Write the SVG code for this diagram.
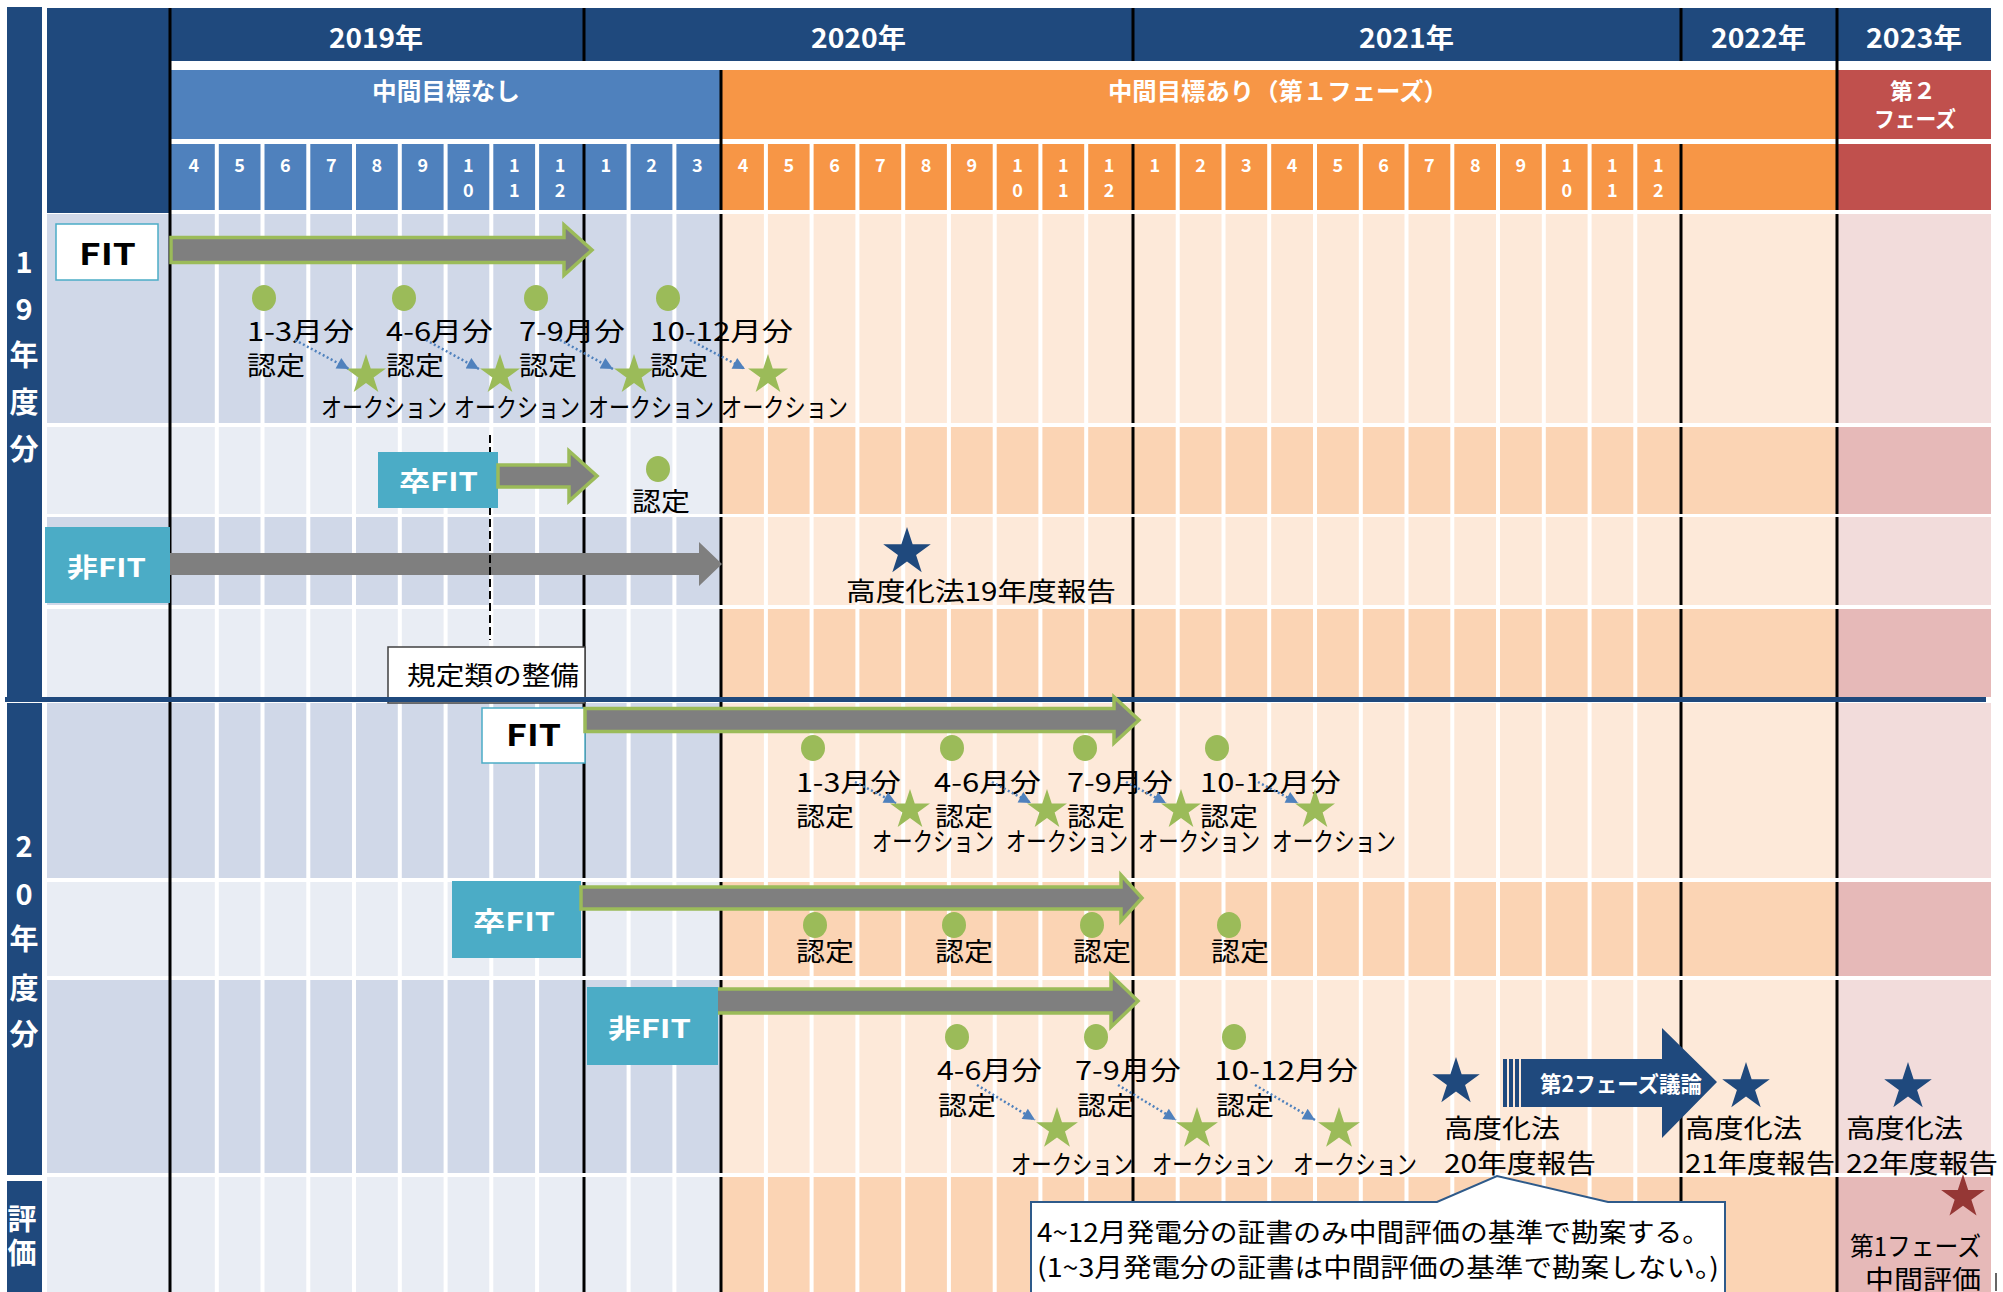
<svg xmlns="http://www.w3.org/2000/svg" xmlns:xlink="http://www.w3.org/1999/xlink" width="2003" height="1292" viewBox="0 0 2003 1292">
<style>
text{font-family:'Noto Sans CJK JP','Noto Sans',sans-serif}
.l{font-size:26px;fill:#000}
.w{fill:#fff;font-weight:bold}
.yr{font-size:27px}
.mo{font-family:'Noto Sans','DejaVu Sans',sans-serif;font-size:18px;fill:#fff;font-weight:bold;text-anchor:middle}
.sd{font-size:29px;fill:#fff;font-weight:bold;text-anchor:middle}
.navy{fill:#1F497D}
.bd{fill:#D0D8E8}.bl{fill:#E9EDF4}.ol{fill:#FDE9D9}.od{fill:#FBD4B4}.pl{fill:#F2DCDB}.pd{fill:#E6B9B8}
.garr{fill:#7F7F7F;stroke:#9BBB59;stroke-width:3.5;stroke-linejoin:miter}
.teal{fill:#4BACC6}
.dot{fill:#9BBB59}
.gs{fill:#9BBB59}
.ns{fill:#1F497D}
.da{fill:none;stroke:#4F81BD;stroke-width:2.5;stroke-dasharray:2 2.5;marker-end:url(#ah)}
</style>
<defs>
<path id="star" d="M0,-1 L0.225,-0.309 L0.951,-0.309 L0.363,0.118 L0.588,0.809 L0,0.382 L-0.588,0.809 L-0.363,0.118 L-0.951,-0.309 L-0.225,-0.309 Z"/>
<marker id="ah" viewBox="0 0 10 10" refX="10" refY="5" markerWidth="14" markerHeight="12" markerUnits="userSpaceOnUse" orient="auto"><path d="M0,0 L10,5 L0,10 Z" fill="#4F81BD"/></marker>
</defs>
<rect width="2003" height="1292" fill="#fff"/>

<g id="grid">
<rect class="navy" x="7" y="7" width="35" height="690"/>
<rect class="navy" x="7" y="703" width="35" height="472"/>
<rect class="navy" x="7" y="1181" width="35" height="111"/>
<rect class="navy" x="47" y="8" width="124" height="205"/>
<rect class="navy" x="171" y="8" width="1820" height="53"/>
<rect x="171" y="70" width="550" height="69" fill="#4F81BD"/>
<rect x="721" y="70" width="1116" height="69" fill="#F79646"/>
<rect x="1837" y="70" width="154" height="69" fill="#C0504D"/>
<rect x="171" y="144" width="550" height="66" fill="#4F81BD"/>
<rect x="721" y="144" width="1116" height="66" fill="#F79646"/>
<rect x="1837" y="144" width="154" height="66" fill="#C0504D"/>
<rect class="bd" x="47" y="214" width="674" height="209"/><rect class="ol" x="721" y="214" width="1116" height="209"/><rect class="pl" x="1837" y="214" width="154" height="209"/>
<rect class="bl" x="47" y="427" width="674" height="87"/><rect class="od" x="721" y="427" width="1116" height="87"/><rect class="pd" x="1837" y="427" width="154" height="87"/>
<rect class="bd" x="47" y="517" width="674" height="88"/><rect class="ol" x="721" y="517" width="1116" height="88"/><rect class="pl" x="1837" y="517" width="154" height="88"/>
<rect class="bl" x="47" y="609" width="674" height="88"/><rect class="od" x="721" y="609" width="1116" height="88"/><rect class="pd" x="1837" y="609" width="154" height="88"/>
<rect class="bd" x="47" y="703" width="674" height="175"/><rect class="ol" x="721" y="703" width="1116" height="175"/><rect class="pl" x="1837" y="703" width="154" height="175"/>
<rect class="bl" x="47" y="882" width="674" height="94"/><rect class="od" x="721" y="882" width="1116" height="94"/><rect class="pd" x="1837" y="882" width="154" height="94"/>
<rect class="bd" x="47" y="980" width="674" height="193"/><rect class="ol" x="721" y="980" width="1116" height="193"/><rect class="pl" x="1837" y="980" width="154" height="193"/>
<rect class="bl" x="47" y="1177" width="674" height="115"/><rect class="od" x="721" y="1177" width="1116" height="115"/><rect class="pd" x="1837" y="1177" width="154" height="115"/>
<path stroke="#fff" stroke-width="4" fill="none" d="M216.8,144V1292M262.5,144V1292M308.3,144V1292M354,144V1292M399.8,144V1292M445.6,144V1292M491.3,144V1292M537.1,144V1292M628.6,144V1292M674.4,144V1292M765.9,144V1292M811.6,144V1292M857.4,144V1292M903.2,144V1292M948.9,144V1292M994.7,144V1292M1040.4,144V1292M1086.2,144V1292M1177.7,144V1292M1223.5,144V1292M1269.2,144V1292M1315,144V1292M1360.8,144V1292M1406.5,144V1292M1452.3,144V1292M1498,144V1292M1543.8,144V1292M1589.6,144V1292M1635.3,144V1292"/>
<path stroke="#000" stroke-width="3" fill="none" d="M170,8V1292M584,8V61M584,144V1292M721,70V1292M1133,8V61M1133,144V1292M1681,8V61M1681,144V1292M1837,8V1292"/>
<rect fill="#fff" x="172" y="210" width="1819" height="4"/>
<rect fill="#fff" x="172" y="423" width="1819" height="4"/>
<rect fill="#fff" x="172" y="514" width="1819" height="3"/>
<rect fill="#fff" x="172" y="605" width="1819" height="4"/>
<rect fill="#fff" x="172" y="878" width="1819" height="4"/>
<rect fill="#fff" x="172" y="976" width="1819" height="4"/>
<rect fill="#fff" x="172" y="1173" width="1819" height="4"/>
</g>

<g id="header-text">
<text class="w yr" x="329" y="48" textLength="94" lengthAdjust="spacingAndGlyphs">2019年</text>
<text class="w yr" x="811" y="48" textLength="95" lengthAdjust="spacingAndGlyphs">2020年</text>
<text class="w yr" x="1359" y="48" textLength="95" lengthAdjust="spacingAndGlyphs">2021年</text>
<text class="w yr" x="1711" y="48" textLength="95" lengthAdjust="spacingAndGlyphs">2022年</text>
<text class="w yr" x="1866" y="48" textLength="96" lengthAdjust="spacingAndGlyphs">2023年</text>
<text class="w" font-size="24" x="372" y="100" textLength="148" lengthAdjust="spacingAndGlyphs">中間目標なし</text>
<text class="w" font-size="24" x="1108" y="100" textLength="340" lengthAdjust="spacingAndGlyphs">中間目標あり（第１フェーズ）</text>
<text class="w" font-size="22" x="1890" y="99" textLength="46" lengthAdjust="spacingAndGlyphs">第２</text>
<text class="w" font-size="22" x="1874" y="127" textLength="82" lengthAdjust="spacingAndGlyphs">フェーズ</text>
<g class="mo">
<text x="193.9" y="172">4</text><text x="239.6" y="172">5</text><text x="285.4" y="172">6</text><text x="331.2" y="172">7</text><text x="376.9" y="172">8</text><text x="422.7" y="172">9</text>
<text x="468.4" y="172">1</text><text x="468.4" y="197">0</text><text x="514.2" y="172">1</text><text x="514.2" y="197">1</text><text x="560" y="172">1</text><text x="560" y="197">2</text>
<text x="605.7" y="172">1</text><text x="651.5" y="172">2</text><text x="697.2" y="172">3</text>
<text x="743" y="172">4</text><text x="788.8" y="172">5</text><text x="834.5" y="172">6</text><text x="880.3" y="172">7</text><text x="926" y="172">8</text><text x="971.8" y="172">9</text>
<text x="1017.6" y="172">1</text><text x="1017.6" y="197">0</text><text x="1063.3" y="172">1</text><text x="1063.3" y="197">1</text><text x="1109.1" y="172">1</text><text x="1109.1" y="197">2</text>
<text x="1154.8" y="172">1</text><text x="1200.6" y="172">2</text><text x="1246.4" y="172">3</text><text x="1292.1" y="172">4</text><text x="1337.9" y="172">5</text><text x="1383.6" y="172">6</text><text x="1429.4" y="172">7</text><text x="1475.2" y="172">8</text><text x="1520.9" y="172">9</text>
<text x="1566.7" y="172">1</text><text x="1566.7" y="197">0</text><text x="1612.4" y="172">1</text><text x="1612.4" y="197">1</text><text x="1658.2" y="172">1</text><text x="1658.2" y="197">2</text>
</g>
<g class="sd">
<text x="24" y="273">1</text><text x="24" y="320">9</text><text x="24" y="366">年</text><text x="24" y="413">度</text><text x="24" y="460">分</text>
<text x="24" y="857">2</text><text x="24" y="905">0</text><text x="24" y="950">年</text><text x="24" y="999">度</text><text x="24" y="1045">分</text>
<text x="22" y="1230">評</text><text x="22" y="1264">価</text>
</g>
</g>

<g id="node-s1-fit">
<rect x="56" y="224" width="102" height="56" fill="#fff" stroke="#4BACC6" stroke-width="1.5"/>
<text x="79" y="265" font-size="30" font-weight="bold" textLength="57" lengthAdjust="spacingAndGlyphs">FIT</text>
<polygon class="garr" points="171,237.5 564,237.5 564,225 592,250 564,275 564,262.5 171,262.5"/>
</g>
<g id="node-s1-fit-items">
<ellipse class="dot" cx="264" cy="298" rx="12" ry="13"/><ellipse class="dot" cx="404" cy="298" rx="12" ry="13"/><ellipse class="dot" cx="536" cy="298" rx="12" ry="13"/><ellipse class="dot" cx="668" cy="298" rx="12" ry="13"/>
<text class="l" x="247" y="341" textLength="107" lengthAdjust="spacingAndGlyphs">1-3月分</text>
<text class="l" x="247" y="375" textLength="58" lengthAdjust="spacingAndGlyphs">認定</text>
<text class="l" x="386" y="341" textLength="107" lengthAdjust="spacingAndGlyphs">4-6月分</text>
<text class="l" x="386" y="375" textLength="58" lengthAdjust="spacingAndGlyphs">認定</text>
<text class="l" x="519" y="341" textLength="106" lengthAdjust="spacingAndGlyphs">7-9月分</text>
<text class="l" x="519" y="375" textLength="58" lengthAdjust="spacingAndGlyphs">認定</text>
<text class="l" x="650" y="341" textLength="143" lengthAdjust="spacingAndGlyphs">10-12月分</text>
<text class="l" x="650" y="375" textLength="58" lengthAdjust="spacingAndGlyphs">認定</text>
<use xlink:href="#star" class="gs" transform="translate(366,375) scale(21)"/>
<use xlink:href="#star" class="gs" transform="translate(500,375) scale(21)"/>
<use xlink:href="#star" class="gs" transform="translate(634,375) scale(21)"/>
<use xlink:href="#star" class="gs" transform="translate(768,375) scale(21)"/>
<text class="l" x="321" y="417" textLength="126" lengthAdjust="spacingAndGlyphs">オークション</text>
<text class="l" x="454" y="417" textLength="126" lengthAdjust="spacingAndGlyphs">オークション</text>
<text class="l" x="588" y="417" textLength="126" lengthAdjust="spacingAndGlyphs">オークション</text>
<text class="l" x="721" y="417" textLength="127" lengthAdjust="spacingAndGlyphs">オークション</text>
</g>

<g id="node-s1-hifit">
<rect class="teal" x="45" y="527" width="125" height="76"/>
<text class="w" font-size="26" x="67" y="577" textLength="79" lengthAdjust="spacingAndGlyphs">非FIT</text>
<polygon fill="#7F7F7F" points="170,553 699,553 699,542 722,564 699,586 699,575 170,575"/>
</g>
<line x1="490" y1="435" x2="490" y2="640" stroke="#000" stroke-width="2" stroke-dasharray="8 4"/>
<g id="node-s1-sotsufit">
<rect class="teal" x="378" y="452" width="120" height="56"/>
<text class="w" font-size="26" x="399" y="491" textLength="79" lengthAdjust="spacingAndGlyphs">卒FIT</text>
<polygon class="garr" points="498,465 569,465 569,451 597,476 569,501 569,487 498,487"/>
<ellipse class="dot" cx="658" cy="469" rx="12" ry="13"/>
<text class="l" x="632" y="511" textLength="58" lengthAdjust="spacingAndGlyphs">認定</text>
</g>
<g id="node-s1-report">
<use xlink:href="#star" class="ns" transform="translate(907,552) scale(25)"/>
<text class="l" font-size="27" x="846" y="601" textLength="270" lengthAdjust="spacingAndGlyphs">高度化法19年度報告</text>
</g>
<g id="node-kitei">
<rect x="388" y="647" width="197" height="56" fill="#fff" stroke="#404040" stroke-width="1.5"/>
<text class="l" x="407" y="685" textLength="172" lengthAdjust="spacingAndGlyphs">規定類の整備</text>
</g>
<rect id="divider" class="navy" x="5" y="697" width="1981" height="5"/>

<g id="node-s2-fit">
<rect x="482" y="708" width="103" height="55" fill="#fff" stroke="#4BACC6" stroke-width="1.5"/>
<text x="506" y="746" font-size="30" font-weight="bold" textLength="55" lengthAdjust="spacingAndGlyphs">FIT</text>
<polygon class="garr" points="585,708.5 1114,708.5 1114,697 1139,720 1114,743 1114,731.5 585,731.5"/>
<ellipse class="dot" cx="813" cy="748" rx="12" ry="13"/><ellipse class="dot" cx="952" cy="748" rx="12" ry="13"/><ellipse class="dot" cx="1085" cy="748" rx="12" ry="13"/><ellipse class="dot" cx="1217" cy="748" rx="12" ry="13"/>
<text class="l" x="796" y="792" textLength="105" lengthAdjust="spacingAndGlyphs">1-3月分</text>
<text class="l" x="796" y="826" textLength="58" lengthAdjust="spacingAndGlyphs">認定</text>
<text class="l" x="934" y="792" textLength="107" lengthAdjust="spacingAndGlyphs">4-6月分</text>
<text class="l" x="935" y="826" textLength="58" lengthAdjust="spacingAndGlyphs">認定</text>
<text class="l" x="1067" y="792" textLength="106" lengthAdjust="spacingAndGlyphs">7-9月分</text>
<text class="l" x="1067" y="826" textLength="58" lengthAdjust="spacingAndGlyphs">認定</text>
<text class="l" x="1200" y="792" textLength="141" lengthAdjust="spacingAndGlyphs">10-12月分</text>
<text class="l" x="1200" y="826" textLength="58" lengthAdjust="spacingAndGlyphs">認定</text>
<use xlink:href="#star" class="gs" transform="translate(910,810) scale(21)"/>
<use xlink:href="#star" class="gs" transform="translate(1047,810) scale(21)"/>
<use xlink:href="#star" class="gs" transform="translate(1181,810) scale(21)"/>
<use xlink:href="#star" class="gs" transform="translate(1315,810) scale(21)"/>
<text class="l" x="872" y="851" textLength="122" lengthAdjust="spacingAndGlyphs">オークション</text>
<text class="l" x="1006" y="851" textLength="122" lengthAdjust="spacingAndGlyphs">オークション</text>
<text class="l" x="1138" y="851" textLength="122" lengthAdjust="spacingAndGlyphs">オークション</text>
<text class="l" x="1272" y="851" textLength="124" lengthAdjust="spacingAndGlyphs">オークション</text>
</g>

<g id="node-s2-sotsufit">
<rect class="teal" x="452" y="881" width="129" height="77"/>
<text class="w" font-size="26" x="473" y="931" textLength="82" lengthAdjust="spacingAndGlyphs">卒FIT</text>
<polygon class="garr" points="581,887 1121,887 1121,875 1142,898 1121,921 1121,909 581,909"/>
<ellipse class="dot" cx="815" cy="925" rx="12" ry="13"/><ellipse class="dot" cx="954" cy="925" rx="12" ry="13"/><ellipse class="dot" cx="1092" cy="925" rx="12" ry="13"/><ellipse class="dot" cx="1229" cy="925" rx="12" ry="13"/>
<text class="l" x="796" y="961" textLength="58" lengthAdjust="spacingAndGlyphs">認定</text>
<text class="l" x="935" y="961" textLength="58" lengthAdjust="spacingAndGlyphs">認定</text>
<text class="l" x="1073" y="961" textLength="58" lengthAdjust="spacingAndGlyphs">認定</text>
<text class="l" x="1211" y="961" textLength="58" lengthAdjust="spacingAndGlyphs">認定</text>
</g>

<g id="node-s2-hifit">
<polygon class="garr" points="713,989 1111,989 1111,975 1138,1001 1111,1027 1111,1013 713,1013"/>
<rect class="teal" x="587" y="987" width="131" height="78"/>
<text class="w" font-size="26" x="608" y="1038" textLength="83" lengthAdjust="spacingAndGlyphs">非FIT</text>
<ellipse class="dot" cx="957" cy="1037" rx="12" ry="13"/><ellipse class="dot" cx="1096" cy="1037" rx="12" ry="13"/><ellipse class="dot" cx="1234" cy="1037" rx="12" ry="13"/>
<text class="l" x="937" y="1080" textLength="105" lengthAdjust="spacingAndGlyphs">4-6月分</text>
<text class="l" x="938" y="1115" textLength="58" lengthAdjust="spacingAndGlyphs">認定</text>
<text class="l" x="1075" y="1080" textLength="106" lengthAdjust="spacingAndGlyphs">7-9月分</text>
<text class="l" x="1077" y="1115" textLength="58" lengthAdjust="spacingAndGlyphs">認定</text>
<text class="l" x="1214" y="1080" textLength="144" lengthAdjust="spacingAndGlyphs">10-12月分</text>
<text class="l" x="1216" y="1115" textLength="58" lengthAdjust="spacingAndGlyphs">認定</text>
<use xlink:href="#star" class="gs" transform="translate(1057,1129) scale(22)"/>
<use xlink:href="#star" class="gs" transform="translate(1197,1129) scale(22)"/>
<use xlink:href="#star" class="gs" transform="translate(1339,1129) scale(22)"/>
<text class="l" x="1011" y="1174" textLength="122" lengthAdjust="spacingAndGlyphs">オークション</text>
<text class="l" x="1152" y="1174" textLength="122" lengthAdjust="spacingAndGlyphs">オークション</text>
<text class="l" x="1293" y="1174" textLength="124" lengthAdjust="spacingAndGlyphs">オークション</text>
</g>

<g id="node-reports">
<use xlink:href="#star" class="ns" transform="translate(1456,1082) scale(25)"/>
<text class="l" x="1444" y="1138" textLength="116" lengthAdjust="spacingAndGlyphs">高度化法</text>
<text class="l" x="1444" y="1173" textLength="152" lengthAdjust="spacingAndGlyphs">20年度報告</text>
<use xlink:href="#star" class="ns" transform="translate(1746,1087) scale(25)"/>
<text class="l" x="1685" y="1138" textLength="117" lengthAdjust="spacingAndGlyphs">高度化法</text>
<text class="l" x="1685" y="1173" textLength="150" lengthAdjust="spacingAndGlyphs">21年度報告</text>
<use xlink:href="#star" class="ns" transform="translate(1908,1087) scale(25)"/>
<text class="l" x="1846" y="1138" textLength="117" lengthAdjust="spacingAndGlyphs">高度化法</text>
<text class="l" x="1846" y="1173" textLength="152" lengthAdjust="spacingAndGlyphs">22年度報告</text>
</g>

<g id="node-phase2">
<rect class="navy" x="1503" y="1059" width="4" height="48"/>
<rect class="navy" x="1509" y="1059" width="4" height="48"/>
<rect class="navy" x="1515" y="1059" width="4" height="48"/>
<polygon class="navy" points="1521,1059 1662,1059 1662,1028 1717,1082 1662,1138 1662,1107 1521,1107"/>
<text class="w" font-size="22" x="1540" y="1092" textLength="162" lengthAdjust="spacingAndGlyphs">第2フェーズ議論</text>
</g>

<g id="node-callout">
<path d="M1031,1202 L1437,1202 L1497,1176 L1608,1202 L1725,1202 L1725,1300 L1031,1300 Z" fill="#fff" stroke="#2E5A8A" stroke-width="2"/>
<text class="l" x="1037" y="1242" textLength="673" lengthAdjust="spacingAndGlyphs">4~12月発電分の証書のみ中間評価の基準で勘案する。</text>
<text class="l" x="1037" y="1277" textLength="682" lengthAdjust="spacingAndGlyphs">(1~3月発電分の証書は中間評価の基準で勘案しない。)</text>
</g>

<g id="node-eval">
<use xlink:href="#star" fill="#953735" transform="translate(1963,1197) scale(23)"/>
<text class="l" x="1850" y="1256" textLength="131" lengthAdjust="spacingAndGlyphs">第1フェーズ</text>
<text class="l" x="1865" y="1289" textLength="116" lengthAdjust="spacingAndGlyphs">中間評価</text>
<line x1="1996" y1="1273" x2="1996" y2="1291" stroke="#333" stroke-width="1.5"/>
</g>

<g id="connectors">
<path class="da" d="M295,340 L349,369"/>
<path class="da" d="M426,340 L479,369"/>
<path class="da" d="M560,340 L613,369"/>
<path class="da" d="M690,340 L745,369"/>
<path class="da" d="M855,782 L896,803"/>
<path class="da" d="M992,782 L1031,803"/>
<path class="da" d="M1126,782 L1166,803"/>
<path class="da" d="M1258,782 L1298,803"/>
<path class="da" d="M977,1085 L1035,1120"/>
<path class="da" d="M1118,1085 L1176,1120"/>
<path class="da" d="M1255,1085 L1315,1120"/>
</g>
</svg>
